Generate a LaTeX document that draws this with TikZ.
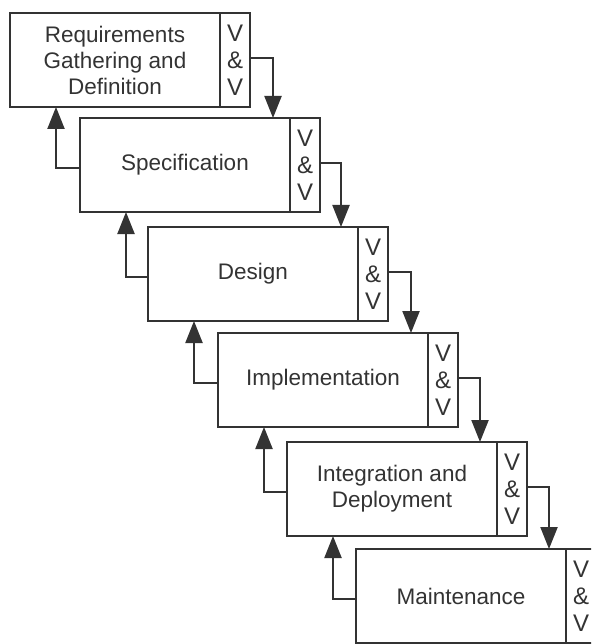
\documentclass[tikz,border=0pt]{standalone}
\usepackage{fontspec}
\setmainfont{Liberation Sans}
\usetikzlibrary{arrows.meta}
\definecolor{ink}{gray}{0.2}
\begin{document}
\begin{tikzpicture}[x=1pt,y=-1pt,
  lbl/.style={font=\fontsize{22.5}{26}\selectfont, text=ink},
  stage/.style={lbl, draw=ink, line width=2.2pt, minimum width=210pt, minimum height=94pt,
    anchor=north west, inner sep=0pt, outer sep=0pt, align=center},
  vvbox/.style={draw=ink, line width=2.2pt, minimum width=30pt, minimum height=94pt,
    anchor=west, inner sep=0pt, outer sep=0pt, align=center,
    font=\fontsize{24}{27}\selectfont, text=ink},
  flow/.style={draw=ink, line width=2.2pt, -{Triangle[width=17pt,length=22pt]}}]
  \useasboundingbox (0,0) rectangle (591,644);
  \clip (0,0) rectangle (591,644);

  % phases of the waterfall, each with its verification & validation column
  \node[stage] (s1) at (10,13)  {Requirements\\Gathering and\\Definition};
  \node[stage] (s2) at (80,118) {Specification};
  \node[stage] (s3) at (148,227) {Design};
  \node[stage] (s4) at (218,333) {Implementation};
  \node[stage] (s5) at (287,442) {Integration and\\Deployment};
  \node[stage] (s6) at (356,549) {Maintenance};
  \foreach \i in {1,...,6}
    \node[vvbox] (v\i) at (s\i.east) {V\\\&\\V};

  % forward flow to the next phase, and feedback to the previous one
  \foreach \i/\j in {1/2,2/3,3/4,4/5,5/6}{
    \draw[flow] ([yshift=2pt]v\i.east) -| ([xshift=193pt]s\j.north west);
    \draw[flow] ([yshift=-3pt]s\j.west) -| ([xshift=46pt]s\i.south west);
  }
\end{tikzpicture}
\end{document}
